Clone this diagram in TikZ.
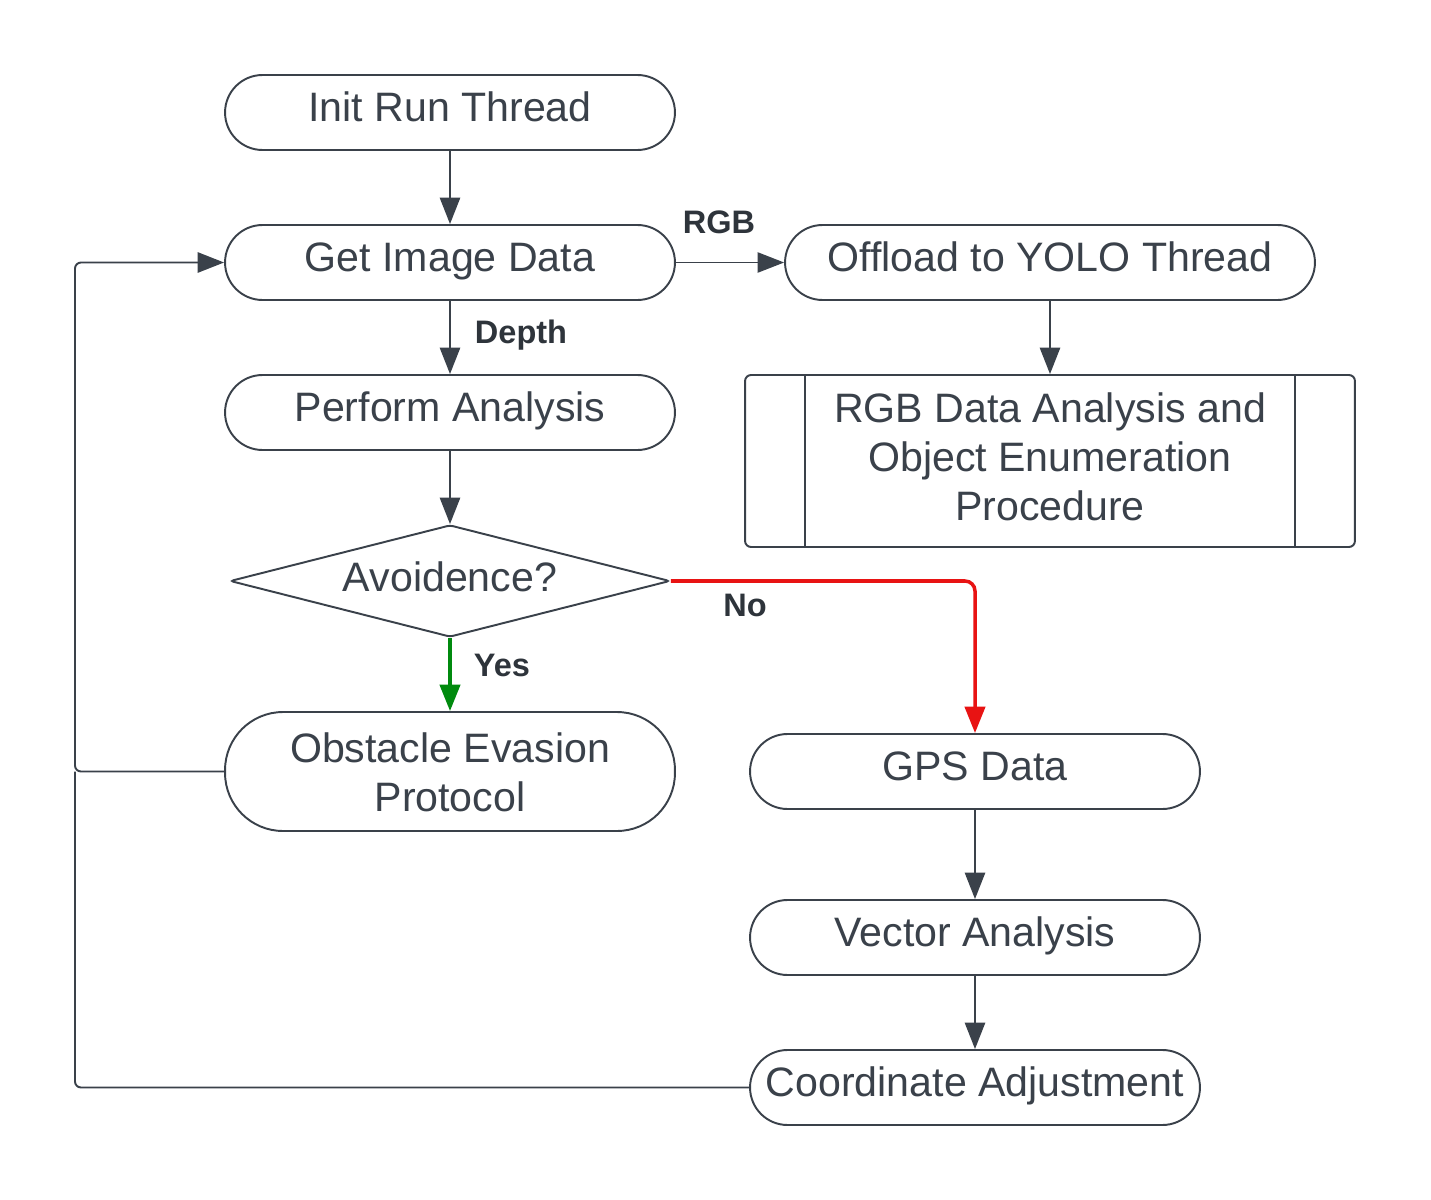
\documentclass[tikz,border=0pt]{standalone}
\usepackage{fontspec}
\setmainfont{Liberation Sans}
\usetikzlibrary{shapes.geometric,arrows.meta}
\definecolor{ink}{HTML}{3A414A}
\definecolor{nored}{HTML}{E81313}
\definecolor{yesgreen}{HTML}{008A0E}
\tikzset{
  base/.style={draw=ink, line width=1.1pt, text=ink, font=\fontsize{23.4}{28.2}\selectfont, inner sep=0pt},
  term/.style={base, rectangle, rounded corners=0.75cm, minimum width=9cm, minimum height=1.5cm, text height=17pt, text depth=6.6pt},
  termtall/.style={base, align=center, rectangle, rounded corners=1.16cm, minimum width=9cm, minimum height=2.38cm, text height=47pt, text depth=1pt},
  proc/.style={base, align=center, font=\fontsize{23.4}{27.9}\selectfont, rectangle, rounded corners=0.12cm, minimum width=12.2cm, minimum height=3.44cm, text height=72.9pt, text depth=5.5pt},
  decide/.style={base, diamond, aspect=3.9, minimum width=8.8cm, minimum height=2.24cm, rounded corners=0.06cm, text height=17pt, text depth=5.6pt},
  conn/.style={draw=ink, line width=1.1pt, -{Triangle[length=15pt,width=11.5pt]}},
  plain/.style={draw=ink, line width=1.1pt},
  lbl/.style={text=ink!80!black, font=\fontsize{18.5}{22}\selectfont\bfseries, inner sep=0pt}
}
\begin{document}
\begin{tikzpicture}[x=0.02cm,y=-0.02cm]
\fill[white] (0,0) rectangle (1431,1200);
\useasboundingbox (0,0) rectangle (1431,1200);

\node[term] (init) at (450,112.5) {Init Run Thread};
\node[term] (get) at (450,262.5) {Get Image Data};
\node[term, minimum width=10.6cm] (yolo) at (1050,262.5) {Offload to YOLO Thread};
\node[term] (perf) at (450,412.5) {Perform Analysis};
\node[proc] (rgb) at (1050,461) {RGB Data Analysis and\\Object Enumeration\\Procedure};
\draw[draw=ink, line width=0.8pt] (805,375) -- (805,547) (1295,375) -- (1295,547);
\node[decide] (avoid) at (450,581) {Avoidence?};
\node[termtall] (obst) at (450,771.5) {Obstacle Evasion\\Protocol};
\node[term] (gps) at (975,771.5) {GPS Data};
\node[term] (vec) at (975,937.5) {Vector Analysis};
\node[term] (coord) at (975,1087.5) {Coordinate Adjustment};

\coordinate (l1) at (75,771.5);
\coordinate (l2) at (75,262.5);
\coordinate (l3) at (75,1087.5);

\draw[conn] (init) -- (get);
\draw[conn] (get) -- (perf);
\draw[conn, line width=0.8pt] (get.east) -- (yolo.west);
\draw[conn] (yolo) -- (rgb);
\draw[conn] (perf) -- (avoid);
\draw[conn, draw=yesgreen, line width=2pt] (avoid.south) -- (obst.north);
\draw[conn, draw=nored, line width=2pt, rounded corners=0.2cm] (avoid.east) -| (gps.north);
\draw[conn] (gps) -- (vec);
\draw[conn] (vec) -- (coord);
\draw[conn, rounded corners=0.12cm] (obst.west) -- (l1) -- (l2) -- (get.west);
\draw[plain, rounded corners=0.12cm] (coord.west) -- (l3) -- (l1);

\node[lbl] (lrgb) at (719,222) {RGB};
\node[lbl] (ldepth) at (521,335) {Depth};
\node[lbl] (lyes) at (502,665) {Yes};
\node[lbl] (lno) at (745,605) {No};
\end{tikzpicture}
\end{document}
